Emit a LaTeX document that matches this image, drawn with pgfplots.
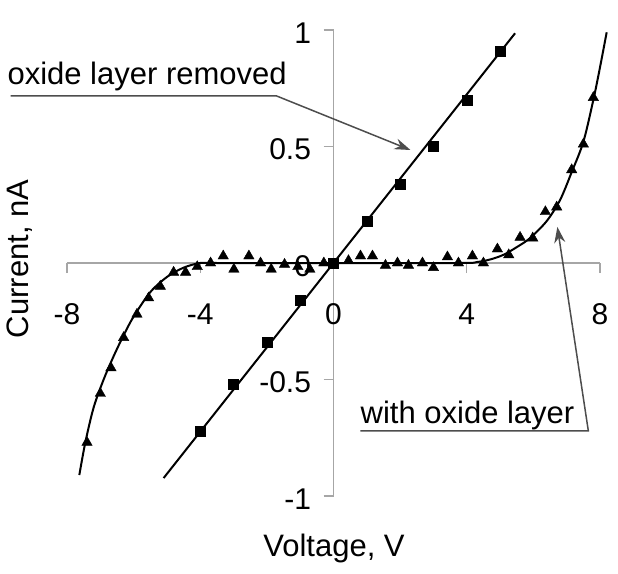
\documentclass[border=0pt]{standalone}
\usepackage{pgfplots}
\pgfplotsset{compat=1.18}
\usepackage{fontspec}
\setmainfont{Liberation Sans}
\usetikzlibrary{arrows.meta}
\definecolor{axgray}{HTML}{A6A6A6}
\definecolor{arrgray}{HTML}{4D4D4D}
\begin{document}
\begin{tikzpicture}
\useasboundingbox (-67pt,-77pt) rectangle (551pt,496pt);
\begin{axis}[
  at={(0,0)}, anchor=south west,
  width=533pt, height=466pt, scale only axis,
  xmin=-8, xmax=8, ymin=-1, ymax=1,
  axis lines=middle,
  every inner x axis line/.append style={-},
  every inner y axis line/.append style={-},
  axis line style={draw=axgray, line width=1.2pt},
  hide obscured x ticks=false, hide obscured y ticks=false,
  xtick={-8,-4,0,4,8}, xticklabels={-8,-4,0,4,8},
  ytick={-1,-0.5,0,0.5,1}, yticklabels={-1,-0.5,0,0.5,1},
  tick align=outside, major tick length=10pt,
  tick style={draw=axgray, line width=1.2pt},
  ticklabel style={font=\fontsize{30}{34}\selectfont},
  xticklabel style={anchor=north, yshift=-27pt},
  yticklabel style={anchor=east, xshift=-9pt, yshift=-3pt},
  xlabel={Voltage, V}, ylabel={Current, nA},
  label style={font=\fontsize{31}{36}\selectfont},
  xlabel style={at={(axis description cs:0.501,-0.112)}, anchor=center},
  ylabel style={at={(axis description cs:-0.088,0.509)}, anchor=center, rotate=90},
  clip=false,
]
% fitted line (oxide removed)
\addplot[black, line width=2pt] coordinates {(-5.1,-0.923) (5.45,0.986)};
% fitted curve (with oxide layer)
\addplot[black, line width=2pt, smooth, tension=0.5] coordinates {
  (-7.63,-0.91) (-7.45,-0.77) (-7.2,-0.62) (-6.9,-0.50) (-6.6,-0.40)
  (-6.3,-0.31) (-6.0,-0.23) (-5.5,-0.125) (-5.0,-0.06) (-4.5,-0.02)
  (-4.0,0.0) (-3.5,0.0) (0,0) (3.8,0.0) (4.3,0.004) (4.7,0.015)
  (5.1,0.035) (5.5,0.068) (5.9,0.107) (6.4,0.18) (6.8,0.27)
  (7.15,0.39) (7.5,0.52) (7.8,0.70) (8.0,0.84) (8.2,0.99)};
% measured, oxide removed
\addplot[only marks, mark=square*, mark size=5pt, black] coordinates {
  (-4,-0.72) (-3,-0.52) (-2,-0.34) (-1,-0.16) (0,0.0)
  (1,0.18) (2,0.34) (3,0.50) (4,0.70) (5,0.91)};
% measured, with oxide layer
\addplot[only marks, mark=triangle*, mark size=6pt, black] coordinates {
  (-7.4,-0.77) (-7.0,-0.56) (-6.68,-0.45) (-6.3,-0.32) (-5.9,-0.22)
  (-5.55,-0.15) (-5.2,-0.10) (-4.8,-0.04) (-4.44,-0.04) (-4.09,-0.016)
  (-3.69,0.0) (-3.31,0.03) (-2.99,-0.027) (-2.54,0.03) (-2.19,0.0)
  (-1.87,-0.027) (-1.47,-0.006) (-1.07,-0.016) (-0.71,-0.027) (-0.29,0.0)
  (0.45,0.01) (0.81,0.03) (1.17,0.03) (1.56,-0.01) (1.92,0.0)
  (2.25,-0.01) (2.67,0.0) (3.0,-0.02) (3.42,0.026) (3.75,0.0)
  (4.17,0.03) (4.5,0.0) (4.92,0.06) (5.26,0.035) (5.6,0.11)
  (5.98,0.107) (6.36,0.22) (6.7,0.24) (7.15,0.40) (7.5,0.51) (7.8,0.71)};
% annotations
\draw[arrgray, line width=1.5pt, -{Stealth[length=16pt,width=11pt]}]
  (axis cs:-9.69,0.717) -- (axis cs:-1.71,0.717) -- (axis cs:2.31,0.485);
\node[anchor=base west, inner sep=0pt, font=\fontsize{31}{36}\selectfont]
  at (axis cs:-9.79,0.764) {oxide layer removed};
\draw[arrgray, line width=1.5pt, -{Stealth[length=16pt,width=11pt]}]
  (axis cs:0.81,-0.721) -- (axis cs:7.65,-0.721) -- (axis cs:6.72,0.155);
\node[anchor=base west, inner sep=0pt, font=\fontsize{31}{36}\selectfont]
  at (axis cs:0.81,-0.687) {with oxide layer};
\end{axis}
\end{tikzpicture}
\end{document}
